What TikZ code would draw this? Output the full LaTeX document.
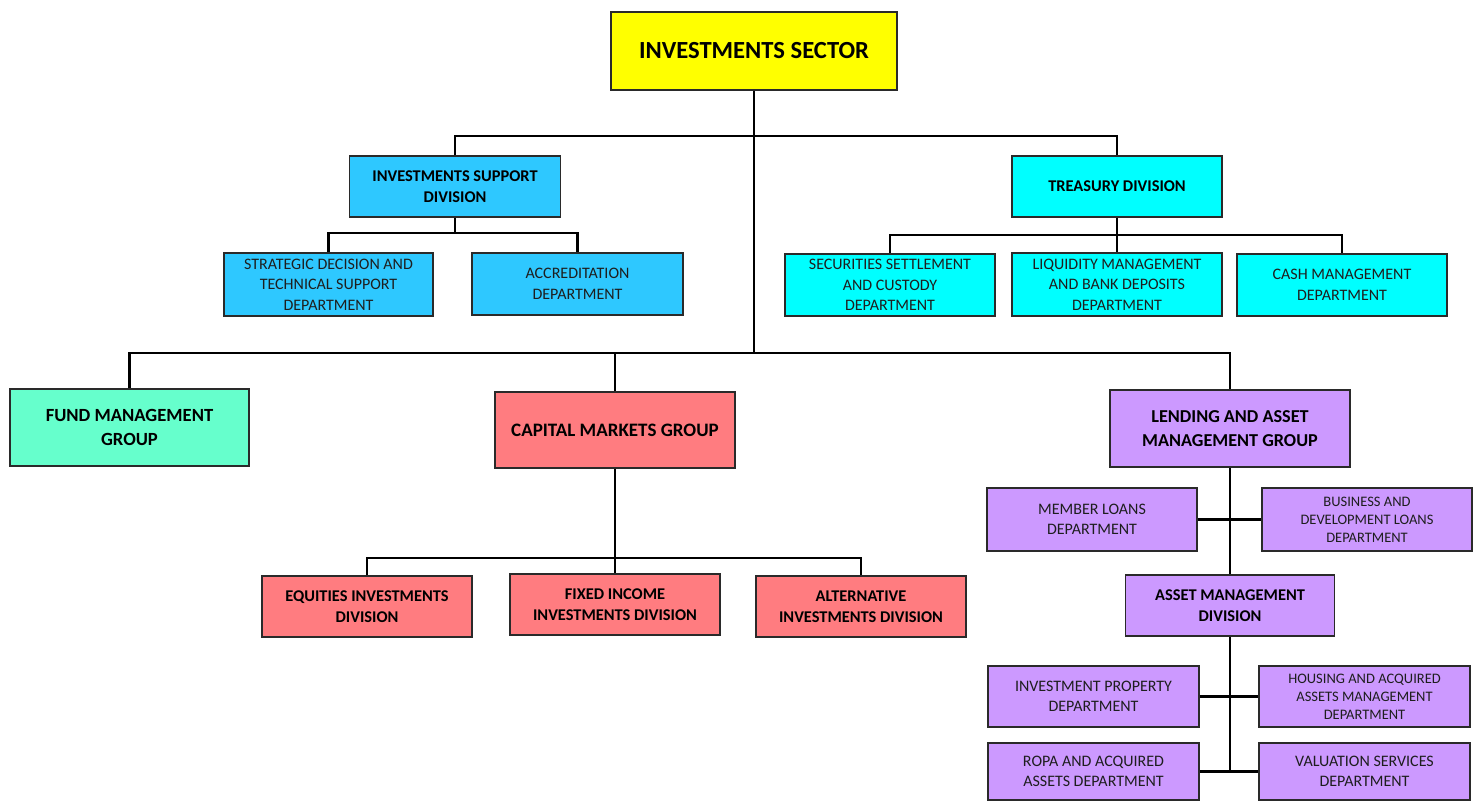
\documentclass[tikz,border=0pt]{standalone}
\usepackage{fontspec}
\setmainfont{Carlito}
\definecolor{cyellow}{HTML}{FFFF00}
\definecolor{cblue}{HTML}{2EC8FF}
\definecolor{ccyan}{HTML}{00FFFF}
\definecolor{cfund}{HTML}{66FFCC}
\definecolor{ccap}{HTML}{FF7C80}
\definecolor{clend}{HTML}{CC99FF}
\definecolor{cborder}{HTML}{2A2A2A}
\definecolor{ctext}{HTML}{1E1E1E}
\begin{document}
\begin{tikzpicture}[x=1pt,y=-1pt,
  box/.style={draw=cborder,line width=1.3pt,rectangle,inner sep=0pt,align=center,text=ctext},
  dept/.style={box,minimum width=210pt,minimum height=62pt,font=\fontsize{16}{20.5}\selectfont},
  deptsm/.style={box,minimum width=210pt,minimum height=62pt,font=\fontsize{14.5}{18}\selectfont},
  div/.style={box,minimum width=210pt,minimum height=61pt,font=\bfseries\fontsize{16.4}{21}\selectfont,text=black},
  grp/.style={box,minimum width=240pt,minimum height=77pt,font=\bfseries\fontsize{18.6}{24}\selectfont,text=black},
  conn/.style={draw=black,line width=2.4pt}
]
\useasboundingbox (0,0) rectangle (1480,802);
\fill[white] (0,0) rectangle (1480,802);

% top
\node[box,fill=cyellow,minimum width=286pt,minimum height=78pt,font=\bfseries\fontsize{24.6}{28}\selectfont,text=black] (sector) at (754,51) {INVESTMENTS SECTOR};

% second level
\node[div,fill=cblue,minimum width=211pt] (isd) at (455,186.5) {INVESTMENTS SUPPORT\\DIVISION};
\node[div,fill=ccyan] (treas) at (1117,186.5) {TREASURY DIVISION};

\node[dept,fill=cblue,minimum width=209pt,minimum height=63pt] (strat) at (328.5,284.5) {STRATEGIC DECISION AND\\TECHNICAL SUPPORT\\DEPARTMENT};
\node[dept,fill=cblue,minimum width=211pt] (accr) at (577.5,284) {ACCREDITATION\\DEPARTMENT};

\node[dept,fill=ccyan] (sec) at (890,285) {SECURITIES SETTLEMENT\\AND CUSTODY\\DEPARTMENT};
\node[dept,fill=ccyan,minimum height=63pt] (liq) at (1117,284.5) {LIQUIDITY MANAGEMENT\\AND BANK DEPOSITS\\DEPARTMENT};
\node[dept,fill=ccyan] (cash) at (1342,285) {CASH MANAGEMENT\\DEPARTMENT};

% groups
\node[grp,fill=cfund,minimum width=239pt] (fund) at (129.5,427.5) {FUND MANAGEMENT\\GROUP};
\node[grp,fill=ccap,minimum height=76pt,font=\bfseries\fontsize{19}{24}\selectfont] (cap) at (615,430) {CAPITAL MARKETS GROUP};
\node[grp,fill=clend,font=\bfseries\fontsize{18.2}{24}\selectfont] (lend) at (1230,428.5) {LENDING AND ASSET\\MANAGEMENT GROUP};

% capital markets divisions
\node[div,fill=ccap] (eq) at (367,606.5) {EQUITIES INVESTMENTS\\DIVISION};
\node[div,fill=ccap] (fixed) at (615,604.5) {FIXED INCOME\\INVESTMENTS DIVISION};
\node[div,fill=ccap] (alt) at (861,606.5) {ALTERNATIVE\\INVESTMENTS DIVISION};

% lending subtree
\node[dept,fill=clend,minimum height=63pt] (member) at (1092,519.5) {MEMBER LOANS\\DEPARTMENT};
\node[deptsm,fill=clend,minimum height=63pt] (bus) at (1367,519.5) {BUSINESS AND\\DEVELOPMENT LOANS\\DEPARTMENT};
\node[div,fill=clend,minimum width=209pt] (amd) at (1230,605.5) {ASSET MANAGEMENT\\DIVISION};
\node[dept,fill=clend,minimum width=211pt,minimum height=61pt] (invprop) at (1093.5,696.5) {INVESTMENT PROPERTY\\DEPARTMENT};
\node[deptsm,fill=clend,minimum width=211pt,minimum height=61pt] (housing) at (1364.5,696.5) {HOUSING AND ACQUIRED\\ASSETS MANAGEMENT\\DEPARTMENT};
\node[dept,fill=clend,minimum width=211pt,minimum height=57pt] (ropa) at (1093.5,771.5) {ROPA AND ACQUIRED\\ASSETS DEPARTMENT};
\node[dept,fill=clend,minimum width=211pt,minimum height=57pt] (val) at (1364.5,771.5) {VALUATION SERVICES\\DEPARTMENT};

% bus coordinates
\coordinate (b1) at (0,136);
\coordinate (b2) at (0,353);
\coordinate (b3) at (0,558);
\coordinate (b4) at (0,233);
\coordinate (b5) at (0,235);

% connectors
\draw[conn] (sector.south) -- (sector.south |- b2);
\draw[conn] (isd.north) -- (isd.north |- b1) -- (treas.north |- b1) -- (treas.north);
\draw[conn] (fund.north) -- (fund.north |- b2) -- (lend.north |- b2) -- (lend.north);
\draw[conn] (cap.north) -- (cap.north |- b2);

\draw[conn] (isd.south) -- (isd.south |- b4);
\draw[conn] (strat.north) -- (strat.north |- b4) -- (accr.north |- b4) -- (accr.north);

\draw[conn] (treas.south) -- (liq.north);
\draw[conn] (sec.north) -- (sec.north |- b5) -- (cash.north |- b5) -- (cash.north);

\draw[conn] (cap.south) -- (fixed.north);
\draw[conn] (eq.north) -- (eq.north |- b3) -- (alt.north |- b3) -- (alt.north);

\draw[conn] (lend.south) -- (amd.north);
\draw[conn] (member.east) -- (bus.west);
\draw[conn] (amd.south) -- (amd.south |- ropa.east);
\draw[conn] (invprop.east) -- (housing.west);
\draw[conn] (ropa.east) -- (val.west);
\end{tikzpicture}
\end{document}
